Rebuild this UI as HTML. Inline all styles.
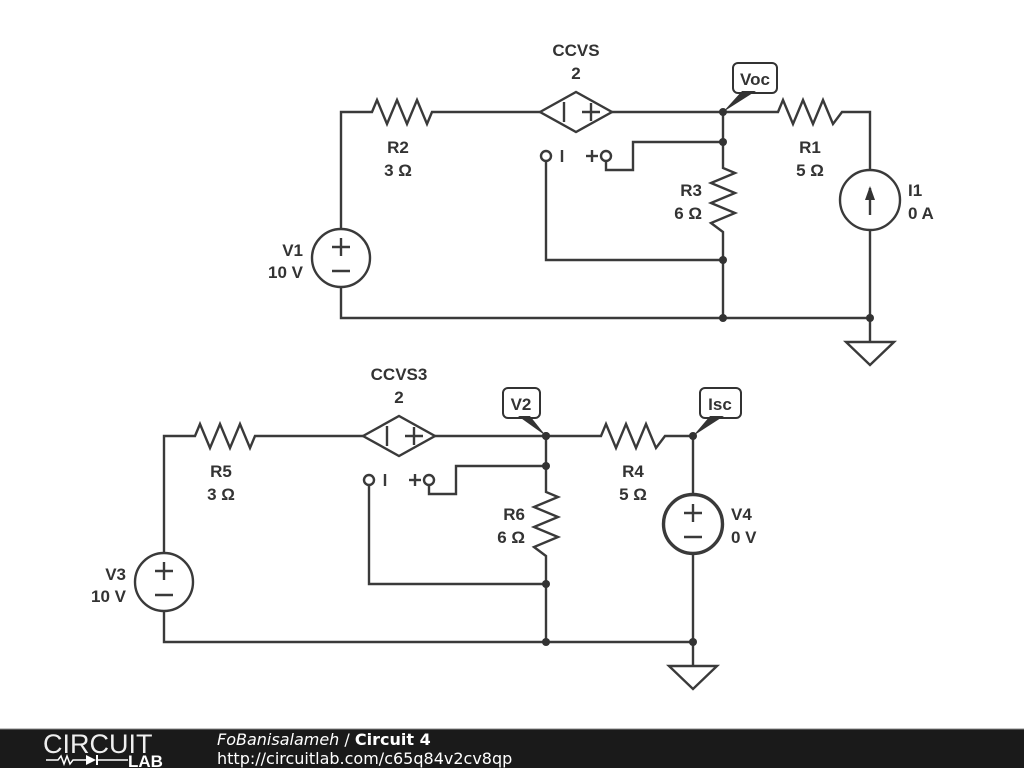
<!DOCTYPE html>
<html><head><meta charset="utf-8"><style>
body{margin:0;width:1024px;height:768px;background:#fff;overflow:hidden}
svg{display:block}
text{font-family:"Liberation Sans",sans-serif;font-weight:bold;font-size:17px;fill:#333}
</style></head><body>
<svg width="1024" height="768" viewBox="0 0 1024 768">
<defs>
<g id="ckt" stroke="#3a3a3a" stroke-width="2.4" fill="none">
  <polyline points="341,229 341,112 372,112 377,100 387,124 397,100 407,124 417,100 427,124 432,112 540,112"/>
  <polygon points="540,112 576,92 612,112 576,132"/>
  <line x1="564" y1="102" x2="564" y2="122"/>
  <line x1="582" y1="112" x2="600" y2="112"/><line x1="591" y1="103" x2="591" y2="121"/>
  <polyline points="612,112 778,112 783,100 793,124 803,100 813,124 823,100 833,124 842,112 870,112 870,170"/>
  <circle cx="870" cy="200" r="30"/>
  <line x1="870" y1="230" x2="870" y2="342"/>
  <line x1="870" y1="188" x2="870" y2="215"/>
  <polygon points="846,342 894,342 870,365"/>
  <circle cx="341" cy="258" r="29"/>
  <line x1="332" y1="247" x2="350" y2="247"/><line x1="341" y1="238" x2="341" y2="256"/>
  <line x1="332" y1="271" x2="350" y2="271"/>
  <polyline points="341,287 341,318 870,318"/>
  <polyline points="723,112 723,168 735,173 711,183 735,193 711,203 735,213 711,223 723,232 723,318"/>
  <polyline points="723,142 633,142 633,170 606,170 606,161"/>
  <circle cx="606" cy="156" r="5"/>
  <circle cx="546" cy="156" r="5"/>
  <polyline points="546,161 546,260 723,260"/>
  <line x1="562" y1="150" x2="562" y2="162"/>
  <line x1="586" y1="156" x2="598" y2="156"/><line x1="592" y1="150" x2="592" y2="162"/>
</g>
<g id="dots" fill="#333">
  <circle cx="723" cy="112" r="4"/><circle cx="723" cy="142" r="4"/>
  <circle cx="723" cy="260" r="4"/><circle cx="723" cy="318" r="4"/>
  <circle cx="870" cy="318" r="4"/>
</g>
</defs>
<use href="#ckt"/><use href="#dots"/>
<g transform="translate(-177,324)">
  <use href="#ckt"/><use href="#dots"/>
</g>
<polygon points="870,186 865,200 875,200" fill="#333"/>
<circle cx="693" cy="524" r="29" fill="#fff" stroke="#3a3a3a" stroke-width="2.4"/>
<g stroke="#3a3a3a" stroke-width="2.4">
<line x1="684" y1="513" x2="702" y2="513"/><line x1="693" y1="504" x2="693" y2="522"/>
<line x1="684" y1="537" x2="702" y2="537"/>
</g>
<circle cx="693" cy="436" r="4" fill="#333"/>
<circle cx="546" cy="436" r="4" fill="#333"/>
<g fill="#fff" stroke="#333" stroke-width="2">
<rect x="733" y="63" width="44" height="30" rx="5"/>
<rect x="503" y="388" width="37" height="30" rx="5"/>
<rect x="700" y="388" width="41" height="30" rx="5"/>
</g>
<polygon points="723,112 742,91 756,91" fill="#333"/>
<polygon points="546,436 530,416 518,416" fill="#333"/>
<polygon points="693,436 710,416 724,416" fill="#333"/>
<text x="755" y="85" text-anchor="middle">Voc</text>
<text x="521" y="410" text-anchor="middle">V2</text>
<text x="720" y="410" text-anchor="middle">Isc</text>
<text x="576" y="56" text-anchor="middle">CCVS</text>
<text x="576" y="79" text-anchor="middle">2</text>
<text x="398" y="153" text-anchor="middle">R2</text>
<text x="398" y="176" text-anchor="middle">3 Ω</text>
<text x="810" y="153" text-anchor="middle">R1</text>
<text x="810" y="176" text-anchor="middle">5 Ω</text>
<text x="702" y="196" text-anchor="end">R3</text>
<text x="702" y="219" text-anchor="end">6 Ω</text>
<text x="908" y="196">I1</text>
<text x="908" y="219">0 A</text>
<text x="303" y="256" text-anchor="end">V1</text>
<text x="303" y="278" text-anchor="end">10 V</text>
<text x="399" y="380" text-anchor="middle">CCVS3</text>
<text x="399" y="403" text-anchor="middle">2</text>
<text x="221" y="477" text-anchor="middle">R5</text>
<text x="221" y="500" text-anchor="middle">3 Ω</text>
<text x="633" y="477" text-anchor="middle">R4</text>
<text x="633" y="500" text-anchor="middle">5 Ω</text>
<text x="525" y="520" text-anchor="end">R6</text>
<text x="525" y="543" text-anchor="end">6 Ω</text>
<text x="731" y="520">V4</text>
<text x="731" y="543">0 V</text>
<text x="126" y="580" text-anchor="end">V3</text>
<text x="126" y="602" text-anchor="end">10 V</text>
<rect x="0" y="729" width="1024" height="39" fill="#1a1a1a"/>
<line x1="0" y1="729" x2="1024" y2="729" stroke="#888" stroke-width="1"/>
<text x="43" y="753" style="font-weight:normal;font-size:27px;fill:#eee;letter-spacing:0px">CIRCUIT</text>
<polyline points="46,760 58,760 61,756 64,764 67,756 70,764 73,760 86,760" stroke="#fff" stroke-width="1.5" fill="none"/>
<polygon points="86,755 86,765 96,760" fill="#fff"/>
<line x1="97" y1="755" x2="97" y2="765" stroke="#fff" stroke-width="2"/>
<line x1="97" y1="760" x2="128" y2="760" stroke="#fff" stroke-width="1.5"/>
<text x="128" y="767" style="font-size:17px;fill:#fff;font-weight:bold">LAB</text>
<text x="217" y="745" style="font-size:16px;fill:#fff;font-weight:normal;font-style:italic;font-family:'DejaVu Sans',sans-serif">FoBanisalameh <tspan font-style="normal">/</tspan> <tspan font-weight="bold" font-style="normal">Circuit 4</tspan></text>
<text x="217" y="764" style="font-size:16px;fill:#fff;font-weight:normal;font-family:'DejaVu Sans',sans-serif">http://circuitlab.com/c65q84v2cv8qp</text>
</svg>
</body></html>
